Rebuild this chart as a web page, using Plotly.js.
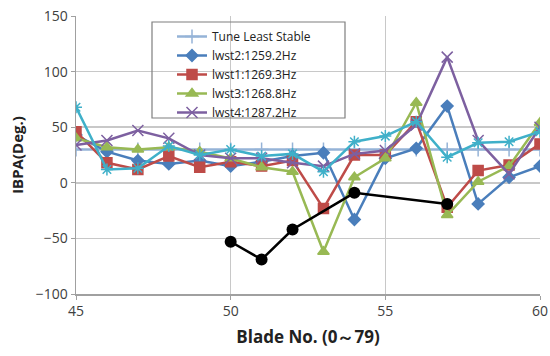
<!DOCTYPE html>
<html>
<head>
<meta charset="utf-8">
<script src="https://cdn.plot.ly/plotly-3.0.1.min.js"></script>
<style>
  html, body { margin: 0; padding: 0; background: #fff; }
  #chart { width: 550px; height: 356px; }
</style>
</head>
<body>
<div id="chart"></div>
<script>
// Blade numbers along the x axis
const blades = [45, 46, 47, 48, 49, 50, 51, 52, 53, 54, 55, 56, 57, 58, 59, 60];

// Inter-blade phase angle (deg) per blade for each mode
const tuneLeastStable = [30, 30, 30, 30, 30, 30, 30, 30, 30, 30, 30, 30, 30, 30, 30, 30];
const lwst2 = [43, 28, 20, 17, 20, 15, 19, 24, 27, -33, 22, 31, 69, -19, 5, 15];
const lwst1 = [46, 18, 12, 24, 14, 19, 15, 20, -23, 25, 25, 55, -22, 11, 16, 35];
const lwst3 = [40, 32, 30, 32, 28, 22, 14, 10, -62, 5, 22, 72, -29, 1, 15, 54];
const lwst4 = [34, 38, 47, 40, 25, 22, 22, 18, 15, 26, 29, 52, 113, 38, 8, 50];
const extraMode = [68, 12, 13, 33, 25, 30, 24, 26, 10, 37, 42, 55, 23, 36, 37, 46];

// Sparse measured points
const measuredBlades = [50, 51, 52, 54, 57];
const measuredIbpa = [-53, -69, -42, -9, -19];

const seriesNames = ['Tune Least Stable', 'lwst2:1259.2Hz', 'lwst1:1269.3Hz', 'lwst3:1268.8Hz', 'lwst4:1287.2Hz'];

function lineTrace(name, y, color, symbol, size, extra) {
  return Object.assign({
    type: 'scatter',
    mode: 'lines+markers',
    name: name,
    x: blades,
    y: y,
    line: { color: color, width: 2.5 },
    marker: { color: color, symbol: symbol, size: size, line: { color: color, width: 1.5 } }
  }, extra || {});
}

const traces = [
  lineTrace(seriesNames[0], tuneLeastStable, '#95B3D7', 'cross-thin-open', 10),
  lineTrace(seriesNames[1], lwst2, '#4A7EBB', 'diamond', 9),
  lineTrace(seriesNames[2], lwst1, '#BE4B48', 'square', 10),
  lineTrace(seriesNames[3], lwst3, '#98B954', 'triangle-up', 10),
  lineTrace(seriesNames[4], lwst4, '#7D60A0', 'x-thin-open', 11),
  lineTrace('lwst5', extraMode, '#3FB0C9', 'asterisk-open', 10, { showlegend: false }),
  {
    type: 'scatter',
    mode: 'lines+markers',
    name: 'measured',
    x: measuredBlades,
    y: measuredIbpa,
    showlegend: false,
    line: { color: '#000000', width: 2.5 },
    marker: { color: '#000000', symbol: 'circle', size: 12 }
  }
];

const tickFont = { family: 'Open Sans, sans-serif', size: 14, color: '#404040' };

const legendBox = { x0: (152 - 76) / 464, x1: (345 - 76) / 464, y0: (294 - 118) / 278, y1: (294 - 22) / 278 };

const layout = {
  width: 550,
  height: 356,
  margin: { l: 76, r: 10, t: 16, b: 62 },
  paper_bgcolor: '#ffffff',
  plot_bgcolor: '#ffffff',
  showlegend: true,
  xaxis: {
    range: [45, 60],
    tickvals: [45, 50, 55, 60],
    ticktext: ['45', '50', '55', '60'],
    showgrid: true,
    gridcolor: '#C8C8C8',
    gridwidth: 1.5,
    zeroline: false,
    showline: true,
    linecolor: '#A0A0A0',
    linewidth: 1.5,
    ticks: 'outside',
    ticklen: 4,
    tickcolor: '#A0A0A0',
    tickfont: tickFont,
    title: { text: 'Blade No. (0～79)', font: { family: 'Open Sans, sans-serif', size: 17, color: '#222222', weight: 'bold' }, standoff: 12 }
  },
  yaxis: {
    range: [-100, 150],
    dtick: 50,
    showgrid: true,
    gridcolor: '#C8C8C8',
    gridwidth: 1.5,
    zeroline: false,
    showline: true,
    linecolor: '#A0A0A0',
    linewidth: 1.5,
    ticks: 'outside',
    ticklen: 4,
    tickcolor: '#A0A0A0',
    tickfont: tickFont,
    title: { text: 'IBPA(Deg.)', font: { family: 'Open Sans, sans-serif', size: 15, color: '#222222', weight: 'bold' }, standoff: 8 }
  },
  legend: {
    x: (172 - 76) / 464,
    y: (294 - 22) / 278,
    xanchor: 'left',
    yanchor: 'top',
    bgcolor: 'rgba(255,255,255,0)',
    borderwidth: 0,
    font: { family: 'Open Sans, sans-serif', size: 12, color: '#222222' },
    tracegroupgap: 0
  },
  shapes: [
    // White backing under the legend entries
    Object.assign({ type: 'rect', xref: 'paper', yref: 'paper', layer: 'below', line: { width: 0 }, fillcolor: '#ffffff' }, legendBox),
    // Legend frame
    Object.assign({ type: 'rect', xref: 'paper', yref: 'paper', layer: 'above', line: { color: '#7F7F7F', width: 1.2 }, fillcolor: 'rgba(0,0,0,0)' }, legendBox)
  ]
};

Plotly.newPlot('chart', traces, layout, { staticPlot: true, displayModeBar: false });
</script>
</body>
</html>
